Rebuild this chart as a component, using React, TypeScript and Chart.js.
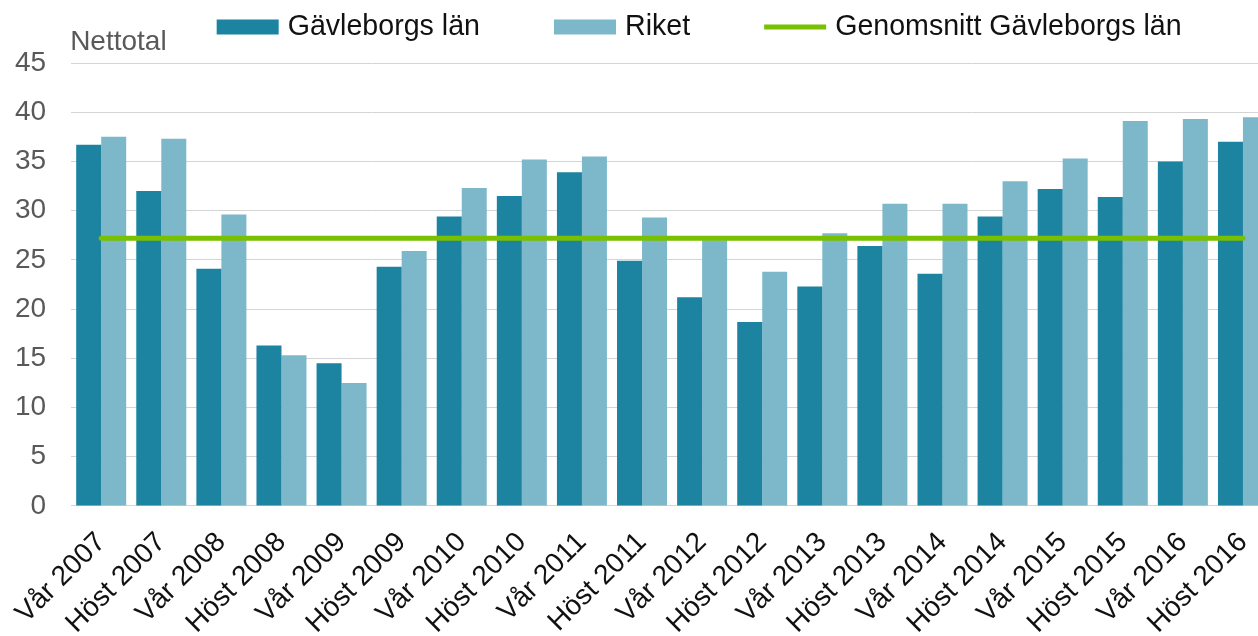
import React, { useEffect, useRef } from "react";
import { Chart, registerables } from "chart.js";

Chart.register(...registerables);

const categories = [
  "Vår 2007", "Höst 2007", "Vår 2008", "Höst 2008", "Vår 2009", "Höst 2009",
  "Vår 2010", "Höst 2010", "Vår 2011", "Höst 2011", "Vår 2012", "Höst 2012",
  "Vår 2013", "Höst 2013", "Vår 2014", "Höst 2014", "Vår 2015", "Höst 2015",
  "Vår 2016", "Höst 2016",
];

const gavleborg = [
  36.7, 32.0, 24.1, 16.3, 14.5, 24.3, 29.4, 31.5, 33.9, 24.9,
  21.2, 18.7, 22.3, 26.4, 23.6, 29.4, 32.2, 31.4, 35.0, 37.0,
];

const riket = [
  37.5, 37.3, 29.6, 15.3, 12.5, 25.9, 32.3, 35.2, 35.5, 29.3,
  27.0, 23.8, 27.7, 30.7, 30.7, 33.0, 35.3, 39.1, 39.3, 39.5,
];

const genomsnitt = [
  27.2, 27.2, 27.2, 27.2, 27.2, 27.2, 27.2, 27.2, 27.2, 27.2,
  27.2, 27.2, 27.2, 27.2, 27.2, 27.2, 27.2, 27.2, 27.2, 27.2,
];

const seriesLabels = ["Gävleborgs län", "Riket", "Genomsnitt Gävleborgs län"];
const yAxisTitle = "Nettotal";
const yMin = 0;
const yMax = 45;
const yStep = 5;

const COLOR_G = "#1c83a1";
const COLOR_R = "#7db8ca";
const COLOR_AVG = "#78c000";
const FONT = "'Liberation Sans', Arial, sans-serif";

// canvas is shifted left inside a clipping frame, like the cropped original
const SHIFT = 25;

const overlayPlugin = {
  id: "overlay",
  afterDraw(chart: any) {
    const ctx = chart.ctx;
    ctx.save();
    // y-axis caption
    ctx.font = `28px ${FONT}`;
    ctx.fillStyle = "#595959";
    ctx.textBaseline = "middle";
    ctx.textAlign = "left";
    ctx.fillText(yAxisTitle, chart.chartArea.left - 1, 42);

    // legend
    const boxW = 62;
    const boxH = 15;
    const gapText = 9;
    const gapItem = 74;
    const centerX = chart.chartArea.left + 628;
    const cy = 27;
    ctx.font = `28.6px ${FONT}`;
    const widths = chart.data.datasets.map((d: any) => ctx.measureText(d.label).width);
    const total =
      widths.reduce((a: number, b: number) => a + b, 0) +
      widths.length * (boxW + gapText) +
      (widths.length - 1) * gapItem;
    let x = centerX - total / 2;
    chart.data.datasets.forEach((d: any, i: number) => {
      if (d.type === "line") {
        ctx.strokeStyle = d.borderColor;
        ctx.lineWidth = 5;
        ctx.beginPath();
        ctx.moveTo(x, cy);
        ctx.lineTo(x + boxW, cy);
        ctx.stroke();
      } else {
        ctx.fillStyle = d.backgroundColor;
        ctx.fillRect(x, cy - boxH / 2, boxW, boxH);
      }
      x += boxW + gapText;
      ctx.fillStyle = "#111";
      ctx.textBaseline = "middle";
      ctx.fillText(d.label, x, cy);
      x += widths[i] + gapItem;
    });
    ctx.restore();
  },
};

export default function App() {
  const ref = useRef<HTMLCanvasElement | null>(null);

  useEffect(() => {
    if (!ref.current) return;
    const chart = new Chart(ref.current, {
      type: "bar",
      data: {
        labels: categories,
        datasets: [
          {
            type: "bar",
            label: seriesLabels[0],
            data: gavleborg,
            backgroundColor: COLOR_G,
            borderWidth: 0,
            categoryPercentage: 0.832,
            barPercentage: 1.0,
            order: 1,
          },
          {
            type: "bar",
            label: seriesLabels[1],
            data: riket,
            backgroundColor: COLOR_R,
            borderWidth: 0,
            categoryPercentage: 0.832,
            barPercentage: 1.0,
            order: 1,
          },
          {
            type: "line",
            label: seriesLabels[2],
            data: genomsnitt,
            borderColor: COLOR_AVG,
            backgroundColor: COLOR_AVG,
            borderWidth: 5,
            pointRadius: 0,
            fill: false,
            borderCapStyle: "round",
            order: 0,
          },
        ] as any,
      },
      options: {
        animation: false,
        responsive: false,
        maintainAspectRatio: false,
        layout: { padding: { top: 63, left: 15, right: 17, bottom: 6 } },
        plugins: {
          legend: { display: false },
          tooltip: { enabled: false },
          title: { display: false },
        },
        scales: {
          x: {
            offset: true,
            grid: { display: false, drawTicks: false },
            border: { display: false },
            ticks: {
              autoSkip: false,
              minRotation: 45,
              maxRotation: 45,
              color: "#111",
              padding: 20,
              font: { size: 28, family: FONT },
            },
          },
          y: {
            min: yMin,
            max: yMax,
            grid: { color: "#d4d4d4", lineWidth: 1, drawTicks: false },
            border: { display: false },
            ticks: {
              stepSize: yStep,
              color: "#595959",
              padding: 25,
              font: { size: 28, family: FONT },
            },
          },
        },
      },
      plugins: [overlayPlugin],
    });
    return () => chart.destroy();
  }, []);

  return (
    <div
      style={{
        position: "fixed",
        left: 0,
        top: 0,
        width: 1258,
        height: 636,
        overflow: "hidden",
        background: "#fff",
      }}
    >
      <canvas
        ref={ref}
        width={1315}
        height={666}
        style={{ display: "block", marginLeft: -SHIFT }}
      />
    </div>
  );
}
